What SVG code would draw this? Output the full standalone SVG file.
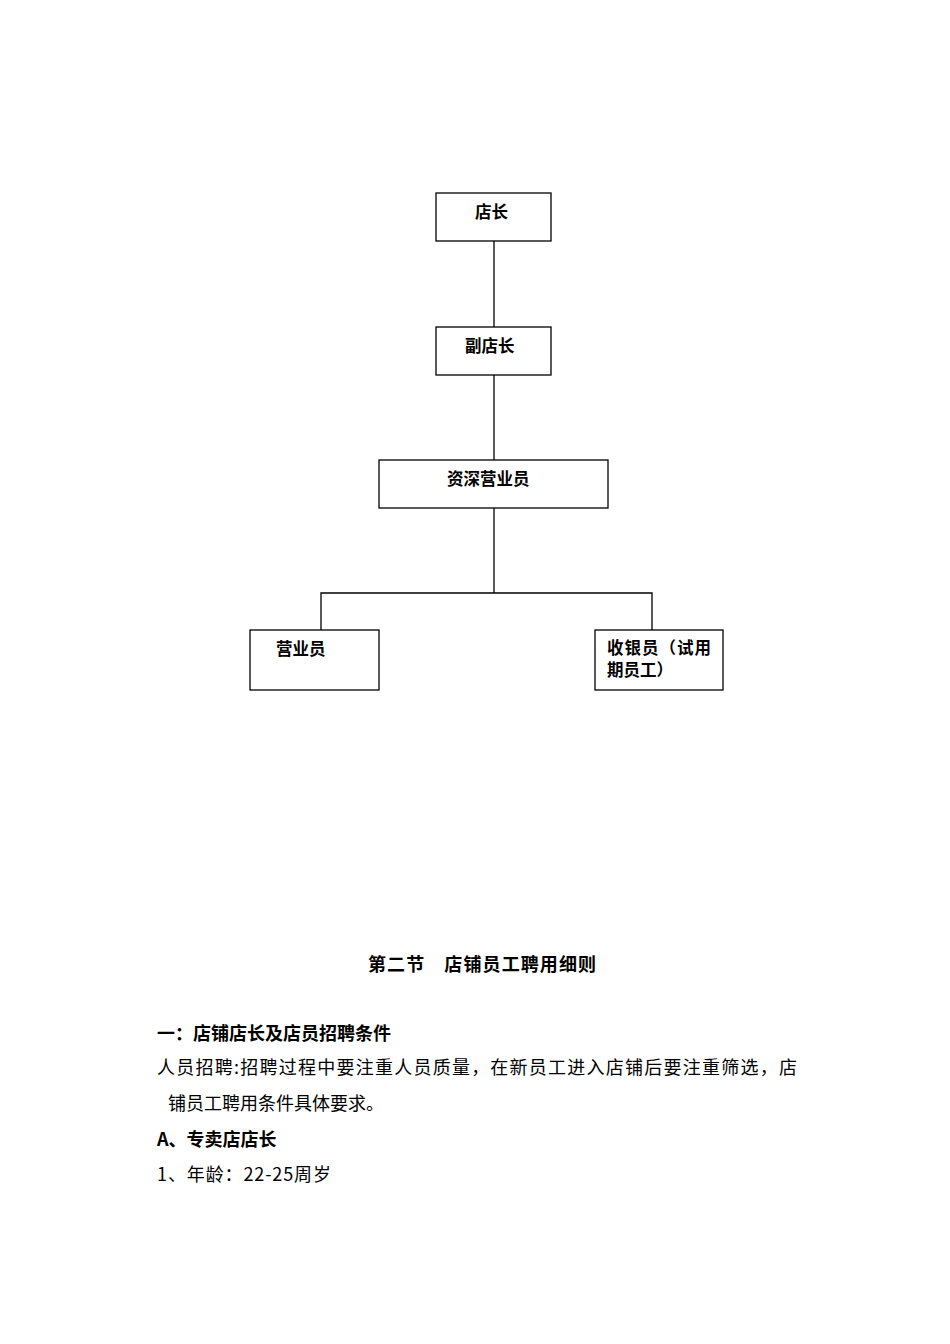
<svg xmlns="http://www.w3.org/2000/svg" width="950" height="1344" viewBox="0 0 950 1344">
<style>
rect{fill:#fff;stroke:#000;stroke-width:1.3}
.c line,.c polyline{stroke:#000;stroke-width:1.3;fill:none}
text{font-family:"Noto Sans CJK SC",sans-serif;fill:#000}
.n{font-size:16.5px;font-weight:bold}
.b{font-size:18px;font-family:"Noto Sans CJK SC",serif}
.h{font-size:18px;font-weight:bold}
</style>
<rect width="950" height="1344" style="stroke:none"/>
<g class="c">
<line x1="494" y1="241" x2="494" y2="327"/>
<line x1="494" y1="375" x2="494" y2="460"/>
<line x1="494" y1="508" x2="494" y2="593"/>
<polyline points="321,630 321,593 652,593 652,630"/>
</g>
<g id="n1"><rect x="436" y="193" width="115" height="48"/><text class="n" x="475" y="218">店长</text></g>
<g id="n2"><rect x="436" y="327" width="115" height="48"/><text class="n" x="465" y="352">副店长</text></g>
<g id="n3"><rect x="379" y="460" width="229" height="48"/><text class="n" x="447" y="485">资深营业员</text></g>
<g id="n4"><rect x="250" y="630" width="129" height="60"/><text class="n" x="276" y="655">营业员</text></g>
<g id="n5"><rect x="595" y="630" width="128" height="60"/><text class="n" x="607" y="654" textLength="104">收银员（试用</text><text class="n" x="607" y="676">期员工）</text></g>
<text class="h" x="368" y="971" textLength="228">第二节　店铺员工聘用细则</text>
<text class="h" x="157" y="1040">一：店铺店长及店员招聘条件</text>
<text class="b" x="157" y="1074" textLength="640">人员招聘:招聘过程中要注重人员质量，在新员工进入店铺后要注重筛选，店</text>
<text class="b" x="168" y="1110">铺员工聘用条件具体要求。</text>
<text class="h" x="157" y="1146">A、专卖店店长</text>
<text class="b" x="157" y="1181" textLength="174">1、年龄：22-25周岁</text>
</svg>
